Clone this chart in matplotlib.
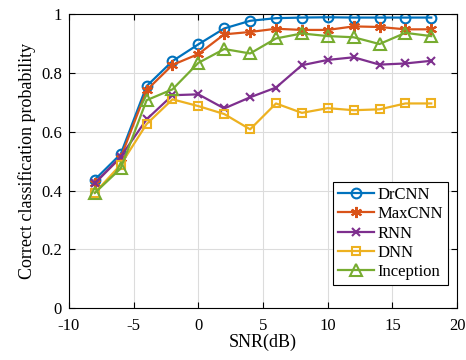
import matplotlib
matplotlib.use("Agg")
from matplotlib import pyplot as plt

plt.rcParams["font.family"] = ["Liberation Serif", "DejaVu Serif"]
plt.rcParams["axes.unicode_minus"] = False

snr = [-8, -6, -4, -2, 0, 2, 4, 6, 8, 10, 12, 14, 16, 18]

drcnn = [0.437, 0.524, 0.755, 0.840, 0.897, 0.951, 0.977, 0.986, 0.988, 0.989, 0.988, 0.988, 0.988, 0.988]
maxcnn = [0.426, 0.512, 0.741, 0.827, 0.864, 0.931, 0.939, 0.950, 0.946, 0.946, 0.958, 0.956, 0.948, 0.948]
rnn = [0.424, 0.515, 0.642, 0.724, 0.727, 0.679, 0.717, 0.750, 0.826, 0.844, 0.853, 0.828, 0.832, 0.841]
dnn = [0.392, 0.488, 0.626, 0.710, 0.687, 0.660, 0.608, 0.696, 0.664, 0.680, 0.673, 0.676, 0.696, 0.696]
inception = [0.392, 0.475, 0.707, 0.744, 0.834, 0.881, 0.866, 0.917, 0.934, 0.925, 0.921, 0.898, 0.936, 0.925]

names = ["DrCNN", "MaxCNN", "RNN", "DNN", "Inception"]
colors = ["#0072BD", "#D95319", "#7E2F8E", "#EDB120", "#77AC30"]
markers = ["o", (6, 2, 0), "x", "s", "^"]
sizes = [7, 8, 6, 6, 8]

fig = plt.figure(figsize=(4.66, 3.6), dpi=100)
ax = fig.add_axes([0.148, 0.144, 0.833, 0.817])

for ys, name, c, m, ms in zip([drcnn, maxcnn, rnn, dnn, inception], names, colors, markers, sizes):
    ax.plot(snr, ys, color=c, marker=m, markersize=ms, markerfacecolor="none",
            markeredgecolor=c, markeredgewidth=1.5, linewidth=1.6, label=name)

ax.set_xlim(-10, 20)
ax.set_ylim(0, 1)
ax.set_xticks(range(-10, 21, 5))
ax.set_yticks([0, 0.2, 0.4, 0.6, 0.8, 1])
ax.set_yticklabels(["0", "0.2", "0.4", "0.6", "0.8", "1"])
ax.grid(True, color="#dcdcdc", linewidth=0.8)
ax.set_axisbelow(True)
ax.tick_params(direction="in", labelsize=12, top=True, right=True, length=4)
ax.tick_params(axis="x", pad=7)
ax.tick_params(axis="y", pad=5)
for s in ax.spines.values():
    s.set_linewidth(0.8)
ax.set_xlabel("SNR(dB)", fontsize=13, labelpad=0)
ax.set_ylabel("Correct classification probability", fontsize=13, labelpad=4)

leg = ax.legend(loc="lower right", bbox_to_anchor=(0.977, 0.078), fontsize=12,
                fancybox=False, framealpha=1, edgecolor="black", borderpad=0.3,
                labelspacing=0.2, handlelength=2.2, handletextpad=0.2,
                borderaxespad=0)
leg.get_frame().set_linewidth(0.8)

fig.savefig("out.png", dpi=100)
